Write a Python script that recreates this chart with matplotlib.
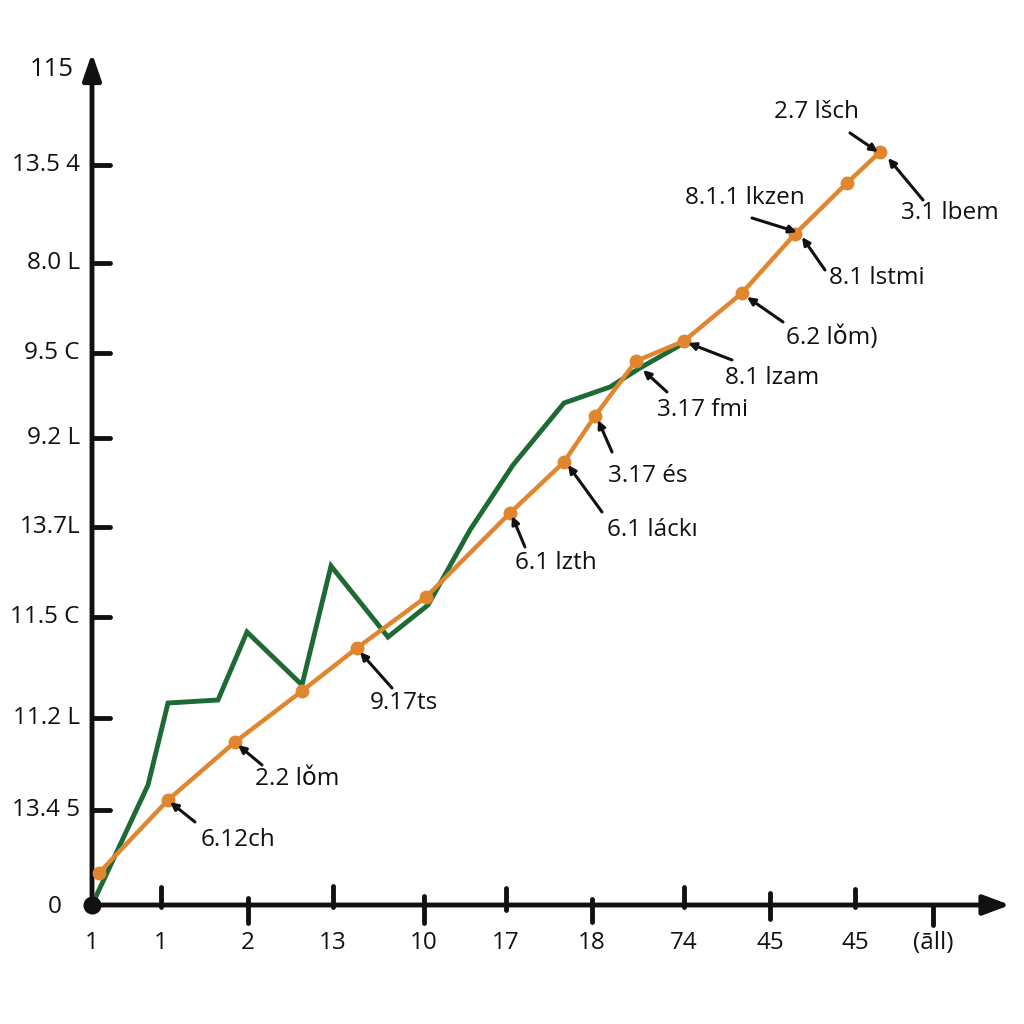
import matplotlib
matplotlib.use("Agg")
import matplotlib.pyplot as plt

plt.rcParams['font.family'] = ['Open Sans', 'DejaVu Sans']

# ---- data ----
orange_x = [7, 76, 143, 210, 265, 334, 418, 472, 503, 544, 592, 650, 703, 755, 788]
orange_y = [32, 105, 163, 214, 257, 308, 392, 443, 489, 544, 564, 612, 671, 722, 753]

green_x = [0, 56, 76, 126, 155, 210, 239, 296, 336, 378, 421, 472, 518, 548, 592]
green_y = [0, 120, 202, 205, 273, 220, 339, 268, 300, 375, 440, 502, 518, 537, 562]

x_tick_pos = [0, 69, 156, 241, 332, 414, 500, 592, 678, 763, 841]
x_tick_labels = ["1", "1", "2", "13", "10", "17", "18", "74", "45", "45", "(āll)"]

y_tick_pos = [95, 187, 288, 378, 467, 552, 642, 740]
y_tick_labels = ["13.4 5", "11.2 L", "11.5 C", "13.7L", "9.2 L", "9.5 C", "8.0 L", "13.5 4"]

ann_labels = ["2.7 lšch", "3.1 lbem", "8.1.1 lkzen", "8.1 lstmi", "6.2 lǒm)",
              "8.1 lzam", "3.17 fmi", "3.17 és", "6.1 láckı", "6.1 lzth",
              "9.17ts", "2.2 lǒm", "6.12ch"]
ann_text_xy = [(725, 793), (858, 692), (653, 707), (785, 627), (740, 567),
               (680, 527), (611, 495), (556, 429), (560, 375), (464, 342),
               (312, 202), (205, 126), (146, 65)]
ann_point_xy = [(786, 753), (796, 747), (705, 673), (710, 668), (655, 608),
                (596, 562), (551, 535), (506, 485), (476, 440), (420, 389),
                (268, 253), (146, 160), (78, 103)]
ann_end_xy = [(758, 772), (831, 705), (660, 687), (733, 635), (691, 583),
              (640, 545), (575, 513), (520, 453), (510, 393), (433, 358),
              (300, 217), (170, 140), (103, 83)]

ORANGE = "#E0862F"
GREEN = "#1E6A35"
FS = 17.5

fig = plt.figure(figsize=(10.24, 10.24), dpi=100)
ax = fig.add_axes([0, 0, 1, 1])
ax.set_xlim(-92, 1024 - 92)
ax.set_ylim(-(1024 - 905), 905)
ax.axis("off")

# axes with arrows
ax.annotate("", xy=(918, 0), xytext=(0, 0),
            arrowprops=dict(arrowstyle="-|>,head_length=1.6,head_width=0.6",
                            lw=3.5, color="#111111", shrinkA=0, shrinkB=0))
ax.annotate("", xy=(0, 852), xytext=(0, 0),
            arrowprops=dict(arrowstyle="-|>,head_length=1.6,head_width=0.55",
                            lw=3.5, color="#111111", shrinkA=0, shrinkB=0))
ax.plot([0], [0], "o", color="#111111", ms=12, zorder=6)

# y ticks
for yv, lab in zip(y_tick_pos, y_tick_labels):
    ax.plot([0, 18], [yv, yv], color="#111111", lw=3.5, solid_capstyle="round")
    ax.text(-12, yv, lab, ha="right", va="center", fontsize=FS, color="#111111")
ax.text(-30, -2, "0", ha="right", va="center", fontsize=FS, color="#111111")
ax.text(-40, 835, "115", ha="center", va="center", fontsize=18.5, color="#111111")

# x ticks (alternating up / down extents)
tick_top = [0, 18, 7, 19, 9, 17, 6, 18, 12, 16, -2]
tick_bot = [0, 2, 18, 2, 18, 5, 17, 2, 14, 2, 20]
for xv, lab, t, b in zip(x_tick_pos, x_tick_labels, tick_top, tick_bot):
    if xv > 0:
        ax.plot([xv, xv], [-b, t], color="#111111", lw=3.5, solid_capstyle="round")
    ax.text(xv, -38, lab, ha="center", va="center", fontsize=FS, color="#111111")

# series
ax.plot(green_x, green_y, color=GREEN, lw=3.5, zorder=3, solid_joinstyle="miter")
ax.plot(orange_x, orange_y, color=ORANGE, lw=3.2, zorder=4,
        marker="o", ms=9, mfc=ORANGE, mec=ORANGE)

# annotations
for lab, txy, pxy, exy in zip(ann_labels, ann_text_xy, ann_point_xy, ann_end_xy):
    ax.annotate("", xy=pxy, xytext=exy,
                arrowprops=dict(arrowstyle="-|>,head_length=0.45,head_width=0.22",
                                lw=2.2, color="#111111", shrinkA=0, shrinkB=0),
                zorder=5)
    ax.text(txy[0], txy[1], lab, ha="center", va="center", fontsize=FS,
            color="#111111", zorder=6)

fig.savefig("out.png", dpi=100, facecolor="white")
